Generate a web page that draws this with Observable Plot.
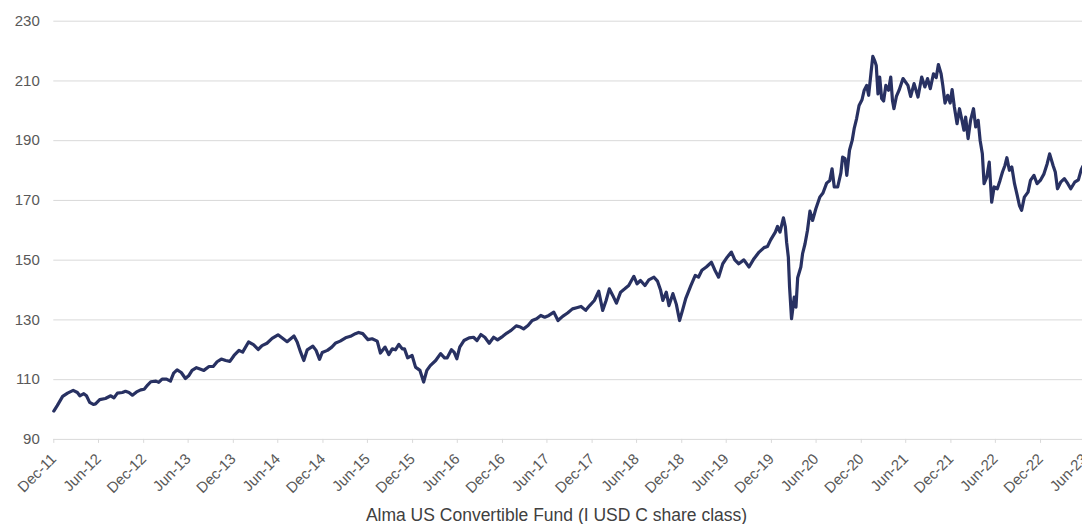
<!DOCTYPE html>
<html>
<head>
<meta charset="utf-8">
<script src="https://cdn.jsdelivr.net/npm/d3@7"></script>
<script src="https://cdn.jsdelivr.net/npm/@observablehq/plot@0.6"></script>
<style>
  html, body { margin: 0; padding: 0; background: #fff; }
  #wrap { position: relative; width: 1082px; height: 524px; overflow: hidden; font-family: "Liberation Sans", Arial, sans-serif; }
  #title { position: absolute; left: 31px; width: 1051px; top: 505px; text-align: center; font-size: 17.5px; line-height: 20px; color: #404040; white-space: nowrap; }
</style>
</head>
<body>
<div id="wrap">
  <div id="chart"></div>
  <div id="title">Alma US Convertible Fund (I USD C share class)</div>
</div>
<script>
const dates = [
"2011-12-31","2012-01-14","2012-02-05","2012-02-25","2012-03-19","2012-04-05","2012-04-15","2012-05-01","2012-05-12","2012-05-25",
"2012-06-09","2012-06-18","2012-07-05","2012-07-28","2012-08-19","2012-09-01","2012-09-15","2012-10-05","2012-10-18","2012-11-01",
"2012-11-15","2012-12-02","2012-12-19","2013-01-02","2013-01-16","2013-01-29","2013-02-19","2013-03-02","2013-03-16","2013-04-03",
"2013-04-19","2013-05-02","2013-05-16","2013-06-02","2013-06-19","2013-07-02","2013-07-16","2013-08-03","2013-08-20","2013-09-02",
"2013-09-23","2013-10-10","2013-10-26","2013-11-12","2013-11-30","2013-12-17","2014-01-03","2014-01-23","2014-02-07","2014-03-03",
"2014-03-23","2014-04-11","2014-04-27","2014-05-17","2014-06-07","2014-07-01","2014-07-17","2014-08-07","2014-09-04","2014-09-17",
"2014-10-01","2014-10-14","2014-10-28","2014-11-20","2014-12-03","2014-12-17","2014-12-28","2015-01-18","2015-02-05","2015-02-21",
"2015-03-11","2015-04-02","2015-04-22","2015-05-12","2015-05-25","2015-06-11","2015-07-02","2015-07-19","2015-08-09","2015-08-22",
"2015-09-10","2015-09-25","2015-10-09","2015-10-22","2015-11-05","2015-11-19","2015-11-28","2015-12-11","2015-12-29","2016-01-12",
"2016-01-30","2016-02-14","2016-02-27","2016-03-12","2016-04-03","2016-04-23","2016-05-09","2016-05-20","2016-06-06","2016-06-17",
"2016-06-28","2016-07-10","2016-07-27","2016-08-17","2016-09-04","2016-09-18","2016-10-04","2016-10-20","2016-11-07","2016-11-25",
"2016-12-11","2017-01-01","2017-01-18","2017-02-04","2017-02-25","2017-03-14","2017-03-27","2017-04-14","2017-05-01","2017-05-19",
"2017-06-05","2017-06-21","2017-07-08","2017-07-28","2017-08-14","2017-09-02","2017-09-22","2017-10-12","2017-10-29","2017-11-16",
"2017-12-05","2017-12-21","2018-01-09","2018-01-27","2018-02-12","2018-02-26","2018-03-11","2018-03-25","2018-04-09","2018-04-26",
"2018-05-13","2018-05-29","2018-06-19","2018-07-02","2018-07-16","2018-08-03","2018-08-19","2018-09-09","2018-09-23","2018-10-06",
"2018-10-15","2018-10-29","2018-11-09","2018-11-25","2018-12-09","2018-12-22","2019-01-03","2019-01-16","2019-02-06","2019-02-24",
"2019-03-09","2019-03-23","2019-04-10","2019-05-01","2019-05-14","2019-05-30","2019-06-16","2019-07-04","2019-07-21","2019-08-04",
"2019-08-20","2019-09-10","2019-10-01","2019-10-21","2019-11-11","2019-12-01","2019-12-15","2019-12-28","2020-01-16","2020-01-25",
"2020-02-04","2020-02-18","2020-02-26","2020-03-02","2020-03-09","2020-03-14","2020-03-22","2020-04-02","2020-04-09","2020-04-16",
"2020-04-29","2020-05-06","2020-05-16","2020-05-26","2020-06-05","2020-06-16","2020-06-29","2020-07-15","2020-07-28","2020-08-12",
"2020-08-25","2020-09-03","2020-09-12","2020-09-26","2020-10-09","2020-10-16","2020-10-26","2020-11-02","2020-11-13","2020-11-24",
"2020-12-02","2020-12-12","2020-12-22","2021-01-03","2021-01-12","2021-01-22","2021-01-30","2021-02-09","2021-02-16","2021-02-23",
"2021-03-02","2021-03-09","2021-03-16","2021-03-24","2021-04-01","2021-04-10","2021-04-21","2021-04-30","2021-05-07","2021-05-13",
"2021-05-23","2021-06-03","2021-06-19","2021-07-09","2021-07-20","2021-08-03","2021-08-19","2021-09-03","2021-09-16","2021-09-27",
"2021-10-08","2021-10-21","2021-11-01","2021-11-10","2021-11-21","2021-11-28","2021-12-07","2021-12-18","2021-12-28","2022-01-05",
"2022-01-14","2022-01-25","2022-02-04","2022-02-14","2022-02-22","2022-03-01","2022-03-11","2022-03-21","2022-04-02","2022-04-11",
"2022-04-21","2022-04-29","2022-05-08","2022-05-15","2022-05-26","2022-06-05","2022-06-15","2022-06-25","2022-07-08","2022-07-19",
"2022-07-29","2022-08-08","2022-08-16","2022-08-26","2022-09-05","2022-09-16","2022-09-27","2022-10-06","2022-10-15","2022-10-26",
"2022-11-10","2022-11-20","2022-12-04","2022-12-17","2022-12-30","2023-01-14","2023-01-27","2023-02-06","2023-02-20","2023-03-01",
"2023-03-10","2023-03-23","2023-04-07","2023-04-21","2023-05-03","2023-05-19","2023-06-03","2023-06-14","2023-06-21"
];
const values = [
99.5,101.3,104.4,105.5,106.4,105.7,104.6,105.3,104.6,102.4,
101.7,101.9,103.3,103.7,104.6,103.9,105.5,105.7,106.1,105.7,
104.8,105.9,106.6,106.8,108.2,109.3,109.5,109.1,110.2,110.2,
109.5,112.2,113.3,112.4,110.4,111.3,113.1,114.0,113.5,113.1,
114.4,114.4,116.0,116.9,116.4,116.1,118.1,119.8,119.2,122.6,
121.7,120.1,121.4,122.2,123.8,125.0,124.0,122.7,124.6,122.6,
119.2,116.4,120.0,121.2,119.8,116.8,119.1,119.8,120.9,122.3,
122.9,124.0,124.5,125.4,125.8,125.4,123.4,123.7,122.9,118.9,
120.9,118.4,120.3,120.0,121.8,120.3,120.3,117.3,118.1,114.2,
113.1,109.2,113.1,114.7,116.4,118.7,117.3,117.3,120.0,119.2,
117.0,120.9,123.1,124.0,124.2,123.1,125.1,124.2,122.2,124.2,
123.3,124.5,125.6,126.5,128.0,127.6,127.0,128.1,129.8,130.4,
131.5,130.9,131.5,132.6,129.8,131.2,132.3,133.7,134.1,134.5,
133.2,134.8,136.5,139.6,133.2,136.5,140.4,138.2,135.6,139.3,
140.4,141.5,144.6,142.1,143.2,141.5,143.4,144.3,143.0,139.9,
136.5,139.3,134.8,138.8,135.2,129.8,133.2,137.1,141.5,144.9,
144.3,146.6,147.7,149.3,146.8,144.3,148.8,151.0,152.7,150.1,
148.8,150.1,147.7,150.5,152.7,154.2,154.6,156.8,159.4,161.3,
159.4,164.2,161.1,156.0,151.0,141.0,130.4,137.6,134.3,144.1,
147.7,152.2,155.5,160.0,166.4,163.3,167.2,171.1,172.5,175.8,
176.7,180.6,174.5,174.5,179.2,184.5,184.0,178.4,186.8,190.1,
194.0,197.4,201.8,203.7,206.9,208.5,205.2,213.0,218.2,216.9,
215.2,205.7,211.3,204.1,203.3,208.5,206.9,211.3,203.5,200.7,
204.8,206.9,210.8,208.5,204.8,209.1,204.6,211.3,208.0,210.8,
207.4,212.4,211.1,215.5,212.4,208.5,202.6,205.2,202.6,207.1,
201.3,195.7,200.7,196.8,193.5,197.9,190.7,196.8,200.7,194.6,
196.8,190.1,185.6,175.6,177.8,182.8,169.4,174.5,173.9,176.7,
179.5,181.7,184.3,180.1,181.2,175.6,171.7,168.3,166.7,171.1,
172.8,176.7,178.4,175.6,176.7,178.9,182.3,185.6,181.7,179.5,
173.9,176.1,177.3,175.6,173.9,176.1,176.9,180.1,181.4
];
const tickDates = [
"2011-12-31","2012-06-30","2012-12-31","2013-06-30","2013-12-31","2014-06-30","2014-12-31","2015-06-30",
"2015-12-31","2016-06-30","2016-12-31","2017-06-30","2017-12-31","2018-06-30","2018-12-31","2019-06-30",
"2019-12-31","2020-06-30","2020-12-31","2021-06-30","2021-12-31","2022-06-30","2022-12-31","2023-06-30"
];
const yTicks = [90, 110, 130, 150, 170, 190, 210, 230];

const data = dates.map((d, i) => ({date: new Date(d), value: values[i]}));
const xTicks = tickDates.map(d => new Date(d));

const chart = Plot.plot({
  width: 1082,
  height: 500,
  marginLeft: 53.3,
  marginRight: 0,
  marginTop: 20.7,
  marginBottom: 61.1,
  style: {fontFamily: "'Liberation Sans', Arial, sans-serif", fontSize: "15px", background: "#fff", color: "#595959"},
  x: {type: "utc", domain: [new Date("2011-12-31"), new Date("2023-06-30")], range: [53.3, 1084.5]},
  y: {domain: [90, 230], range: [438.9, 20.7]},
  marks: [
    Plot.gridY(yTicks, {stroke: "#d9d9d9", strokeOpacity: 1, strokeWidth: 1}),
    Plot.axisY(yTicks, {tickSize: 0, tickPadding: 14, fontSize: 15, fill: "#595959", label: null}),
    Plot.axisX(xTicks, {tickFormat: d3.utcFormat("%b-%y"), tickRotate: -45, tickSize: 4, tickPadding: 13, stroke: "#d9d9d9", strokeOpacity: 1, fill: "#595959", fontSize: 15, label: null}),
    Plot.line(data, {x: "date", y: "value", stroke: "#283162", strokeWidth: 3.2, strokeLinejoin: "round", strokeLinecap: "round"})
  ]
});
document.getElementById("chart").appendChild(chart);
</script>
</body>
</html>
